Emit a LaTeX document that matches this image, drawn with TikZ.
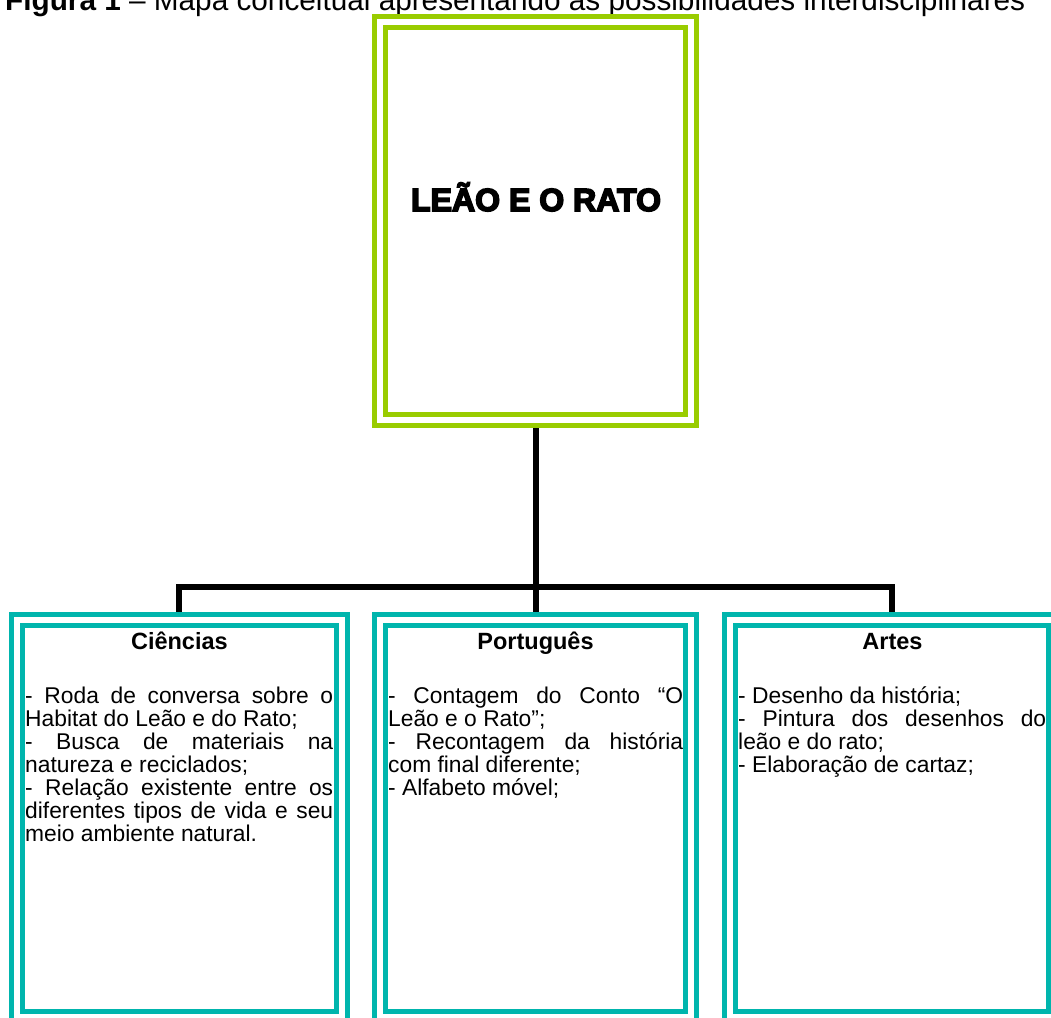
\documentclass[tikz,border=0pt]{standalone}
\usepackage{graphicx}
\usepackage{fontspec}
\setmainfont{Liberation Sans}
\newfontfamily\blackfont{Liberation Sans Bold}[FakeBold=5]
\usetikzlibrary{backgrounds}
\definecolor{limegreen}{RGB}{153,204,0}
\definecolor{tealbox}{RGB}{0,181,173}
\newcommand{\js}[1]{\makebox[\linewidth][s]{#1}}
\newcommand{\jl}[1]{\makebox[\linewidth][l]{#1}}
\newcommand{\bodyset}{\fontsize{22.8}{23}\selectfont}
\tikzset{
  dbox/.style={draw=#1, line width=5pt, double=white, double distance=6pt,
    fill=white, inner sep=0pt, outer sep=0pt},
  conn/.style={draw=black, line width=6pt},
  head/.style={anchor=base, inner sep=0pt, font=\fontsize{23.5}{26}\selectfont\bfseries},
  bodytxt/.style={anchor=base west, inner sep=0pt},
}
\begin{document}
\begin{tikzpicture}[x=1pt,y=-1pt]
\useasboundingbox (0,0) rectangle (1051,1017);
\clip (0,0) rectangle (1051,1017);
% title
\node[anchor=base west, inner sep=0pt] (title) at (5,10)
  {\resizebox{1020pt}{!}{\textbf{Figura 1} – Mapa conceitual apresentando as possibilidades interdisciplinares}};
% boxes
\node[dbox=limegreen, minimum width=311pt, minimum height=398.5pt] (main) at (535.5,220.75) {};
\node[dbox=tealbox, minimum width=325.75pt, minimum height=397pt] (left) at (179.4,818) {};
\node[dbox=tealbox, minimum width=311pt, minimum height=397pt] (mid) at (535.5,818) {};
\node[dbox=tealbox, minimum width=324pt, minimum height=397pt] (right) at (892,818) {};
\coordinate (bus) at (535.5,587);
% connectors
\begin{pgfonlayer}{background}
\draw[conn] (main.south) -- (mid.north);
\draw[conn] (left.north) |- (bus) -| (right.north);
\end{pgfonlayer}
% main title
\node[anchor=base, inner sep=0pt] (maintxt) at (536,211)
  {\resizebox{250pt}{\height}{\fontsize{32}{33}\blackfont LEÃO E O RATO}};
% headers
\node[head] (hc) at (179.4,649) {Ciências};
\node[head] (hp) at (535.5,649) {Português};
\node[head] (ha) at (892.5,649) {Artes};
% bodies
\node[bodytxt] (tc) at (25,703) {\parbox[t]{308pt}{\bodyset
  \js{- Roda de conversa sobre o}\\
  \jl{Habitat do Leão e do Rato;}\\
  \js{- Busca de materiais na}\\
  \jl{natureza e reciclados;}\\
  \js{- Relação existente entre os}\\
  \js{diferentes tipos de vida e seu}\\
  \jl{meio ambiente natural.}}};
\node[bodytxt] (tp) at (388,703) {\parbox[t]{295pt}{\bodyset
  \js{- Contagem do Conto “O}\\
  \jl{Leão e o Rato”;}\\
  \js{- Recontagem da história}\\
  \jl{com final diferente;}\\
  \jl{- Alfabeto móvel;}}};
\node[bodytxt] (ta) at (738,703) {\parbox[t]{308pt}{\bodyset
  \jl{- Desenho da história;}\\
  \js{- Pintura dos desenhos do}\\
  \jl{leão e do rato;}\\
  \jl{- Elaboração de cartaz;}}};
\end{tikzpicture}
\end{document}
